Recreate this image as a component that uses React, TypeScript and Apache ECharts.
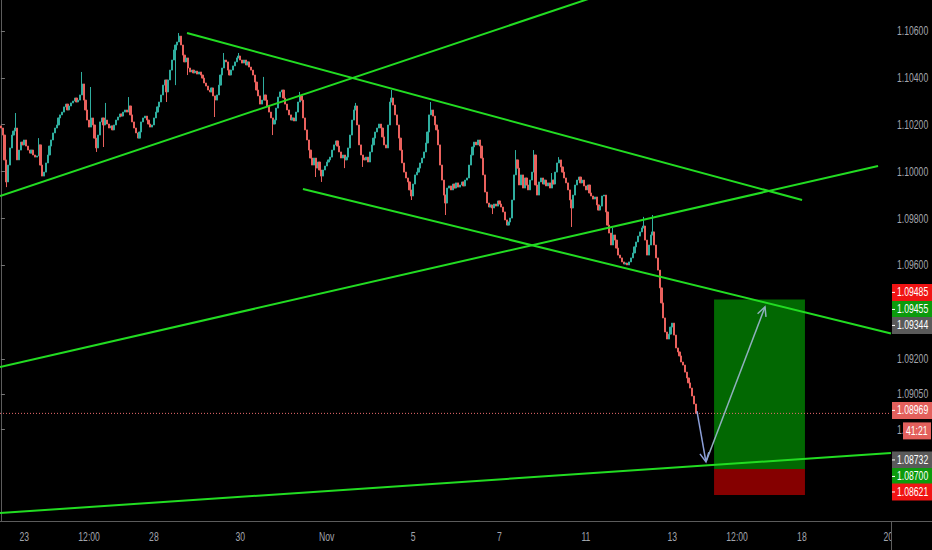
import React, { useEffect, useRef } from "react";
import * as echarts from "echarts";

// ---------- data ----------
const tradingDays = [
  "2019-10-22", "2019-10-23", "2019-10-24", "2019-10-25", "2019-10-28", "2019-10-29",
  "2019-10-30", "2019-10-31", "2019-11-01", "2019-11-04", "2019-11-05", "2019-11-06",
  "2019-11-07", "2019-11-08", "2019-11-11", "2019-11-12", "2019-11-13", "2019-11-14",
  "2019-11-15", "2019-11-18", "2019-11-19", "2019-11-20",
];
const firstHour = 11;
const slotCount = 495;

const tickLabels: Record<string, string> = {
  "2019-10-23 00:00": "23",
  "2019-10-24 12:00": "12:00",
  "2019-10-28 00:00": "28",
  "2019-10-30 00:00": "30",
  "2019-11-01 00:00": "Nov",
  "2019-11-05 00:00": "5",
  "2019-11-07 00:00": "7",
  "2019-11-11 00:00": "11",
  "2019-11-13 00:00": "13",
  "2019-11-14 12:00": "12:00",
  "2019-11-18 00:00": "18",
  "2019-11-20 00:00": "20",
};

const priceTicks = [1.106, 1.104, 1.102, 1.1, 1.098, 1.096, 1.092, 1.0905, 1.089];
const Y_MIN = 1.0851;
const Y_MAX = 1.10732;

const firstOpen = 1.10195;
const closes = [
  1.10186, 1.10156, 1.10050, 1.09956, 1.10028, 1.10101, 1.10156, 1.10173, 1.10186, 1.10050,
  1.10092, 1.10126, 1.10114, 1.10135, 1.10109, 1.10092, 1.10079, 1.10092, 1.10071, 1.10062,
  1.10067, 1.10114, 1.10028, 1.09981, 1.09998, 1.10037, 1.10071, 1.10109, 1.10135, 1.10165,
  1.10186, 1.10199, 1.10229, 1.10242, 1.10254, 1.10276, 1.10288, 1.10263, 1.10280, 1.10293,
  1.10301, 1.10314, 1.10297, 1.10305, 1.10327, 1.10374, 1.10305, 1.10263, 1.10220, 1.10190,
  1.10229, 1.10199, 1.10143, 1.10101, 1.10156, 1.10212, 1.10229, 1.10199, 1.10220, 1.10203,
  1.10186, 1.10195, 1.10178, 1.10199, 1.10220, 1.10233, 1.10246, 1.10237, 1.10254, 1.10263,
  1.10254, 1.10280, 1.10242, 1.10212, 1.10186, 1.10165, 1.10143, 1.10169, 1.10212, 1.10229,
  1.10237, 1.10220, 1.10203, 1.10190, 1.10199, 1.10229, 1.10254, 1.10276, 1.10297, 1.10327,
  1.10369, 1.10391, 1.10340, 1.10391, 1.10433, 1.10476, 1.10519, 1.10540, 1.10553, 1.10578,
  1.10540, 1.10497, 1.10468, 1.10485, 1.10442, 1.10425, 1.10433, 1.10421, 1.10429, 1.10416,
  1.10425, 1.10412, 1.10399, 1.10378, 1.10365, 1.10348, 1.10340, 1.10357, 1.10323, 1.10305,
  1.10327, 1.10369, 1.10412, 1.10442, 1.10476, 1.10468, 1.10433, 1.10412, 1.10433, 1.10451,
  1.10468, 1.10485, 1.10493, 1.10476, 1.10463, 1.10476, 1.10455, 1.10468, 1.10446, 1.10433,
  1.10412, 1.10382, 1.10348, 1.10323, 1.10288, 1.10305, 1.10327, 1.10305, 1.10280, 1.10254,
  1.10229, 1.10203, 1.10220, 1.10271, 1.10318, 1.10340, 1.10348, 1.10314, 1.10288, 1.10263,
  1.10242, 1.10220, 1.10229, 1.10216, 1.10254, 1.10297, 1.10323, 1.10305, 1.10229, 1.10178,
  1.10135, 1.10092, 1.10058, 1.10028, 1.10058, 1.10015, 1.10041, 1.10007, 1.09981, 1.10007,
  1.10024, 1.10041, 1.10050, 1.10062, 1.10092, 1.10114, 1.10131, 1.10109, 1.10084, 1.10058,
  1.10071, 1.10050, 1.10062, 1.10101, 1.10156, 1.10220, 1.10263, 1.10280, 1.10199, 1.10114,
  1.10071, 1.10058, 1.10050, 1.10062, 1.10041, 1.10084, 1.10114, 1.10143, 1.10169, 1.10186,
  1.10203, 1.10186, 1.10148, 1.10114, 1.10101, 1.10199, 1.10297, 1.10314, 1.10284, 1.10242,
  1.10199, 1.10143, 1.10092, 1.10037, 1.09998, 1.09973, 1.09956, 1.09922, 1.09896, 1.09947,
  1.09986, 1.09998, 1.10015, 1.10037, 1.10058, 1.10084, 1.10122, 1.10169, 1.10242, 1.10263,
  1.10237, 1.10199, 1.10178, 1.10114, 1.10028, 1.09964, 1.09900, 1.09866, 1.09930, 1.09939,
  1.09922, 1.09947, 1.09930, 1.09952, 1.09934, 1.09943, 1.09956, 1.09939, 1.09964, 1.09973,
  1.10028, 1.10071, 1.10105, 1.10126, 1.10114, 1.10135, 1.10109, 1.10058, 1.09986, 1.09913,
  1.09866, 1.09849, 1.09858, 1.09845, 1.09862, 1.09853, 1.09875, 1.09862, 1.09849, 1.09828,
  1.09794, 1.09772, 1.09785, 1.09802, 1.09879, 1.09986, 1.10050, 1.10015, 1.09943, 1.09986,
  1.09930, 1.09973, 1.09943, 1.09922, 1.09964, 1.09998, 1.10071, 1.09943, 1.09900, 1.09956,
  1.09973, 1.09947, 1.09964, 1.09939, 1.09952, 1.09930, 1.09964, 1.09947, 1.09998, 1.10037,
  1.10050, 1.10020, 1.09998, 1.09973, 1.09952, 1.09922, 1.09879, 1.09845, 1.09900, 1.09943,
  1.09964, 1.09977, 1.09952, 1.09964, 1.09939, 1.09922, 1.09943, 1.09909, 1.09896, 1.09883,
  1.09892, 1.09858, 1.09836, 1.09853, 1.09896, 1.09900, 1.09828, 1.09772, 1.09738, 1.09687,
  1.09730, 1.09708, 1.09674, 1.09644, 1.09632, 1.09615, 1.09606, 1.09610, 1.09602, 1.09615,
  1.09632, 1.09653, 1.09679, 1.09700, 1.09725, 1.09743, 1.09760, 1.09768, 1.09708, 1.09644,
  1.09687, 1.09730, 1.09743, 1.09687, 1.09632, 1.09580, 1.09504, 1.09440, 1.09376, 1.09316,
  1.09286, 1.09307, 1.09337, 1.09354, 1.09303, 1.09248, 1.09231, 1.09214, 1.09188, 1.09175,
  1.09145, 1.09120, 1.09099, 1.09077, 1.09043, 1.09009, 1.08969,
];

// notable wicks [candle index, price]
const wickHighs: [number, number][] = [
  [8, 1.1025], [21, 1.10143], [45, 1.10425], [50, 1.10361], [58, 1.10293], [71, 1.10318],
  [99, 1.10591], [124, 1.10506], [132, 1.10506], [146, 1.10404], [166, 1.1034], [197, 1.10293],
  [217, 1.10348], [239, 1.10297], [286, 1.10092], [296, 1.10092], [306, 1.09994], [310, 1.10062],
  [340, 1.0976], [357, 1.09807], [362, 1.09815],
];
const wickLows: [number, number][] = [
  [3, 1.09934], [53, 1.10084], [57, 1.10105], [92, 1.10297], [97, 1.10369], [104, 1.10412],
  [119, 1.10233], [151, 1.10156], [175, 1.09977], [178, 1.09956], [191, 1.10015], [201, 1.1002],
  [228, 1.09879], [247, 1.09815], [273, 1.09819], [317, 1.09764],
];

// trend lines: [[slot, price], [slot, price]]
const trendLines: [number, number][][] = [
  [[-0.5, 1.09896], [332.8, 1.10753]],
  [[103.4, 1.10591], [445.1, 1.09879]],
  [[167.8, 1.09926], [494.5, 1.0931]],
  [[-0.5, 1.09167], [487.3, 1.10024]],
  [[-0.5, 1.08544], [494.5, 1.088]],
];

// long position tool
const positionFrom = 396.2;
const positionTo = 446.7;
const targetPrice = 1.09455;
const entryPrice = 1.08732;
const stopPrice = 1.08621;

// projected path arrows
const arrowDown: [number, number][] = [[386.7, 1.08979], [391.7, 1.08762]];
const arrowUp: [number, number][] = [[391.9, 1.08766], [424.5, 1.09423]];

const lastPrice = 1.08969;
const countdown = "41:21";

// price scale tags
const priceTags = [
  { price: 1.09485, bg: "#f01414", dy: 0 },
  { price: 1.09455, bg: "#0c9a0c", dy: 10 },
  { price: 1.09344, bg: "#5a5a5a", dy: 0 },
  { price: 1.08969, bg: "#e3605c", dy: -3 },
  { price: 1.08732, bg: "#5a5a5a", dy: -9 },
  { price: 1.087, bg: "#0c9a0c", dy: 0 },
  { price: 1.08621, bg: "#f01414", dy: -3 },
];

// ---------- chart ----------
const FONT = '"Liberation Sans", Arial, sans-serif';
const UP = "#2fae9f";
const DOWN = "#ea615d";
const GREEN_LINE = "#22dc22";
const AXIS_TEXT = "#a2a5ad";
const NARROW = 0.72;
const FS = 12;

function buildCategories() {
  const cats: string[] = [];
  tradingDays.forEach((d, di) => {
    for (let h = di === 0 ? firstHour : 0; h < 24; h++) {
      cats.push(`${d} ${String(h).padStart(2, "0")}:00`);
    }
  });
  return cats.slice(0, slotCount);
}

function buildCandles() {
  const hi = new Map(wickHighs);
  const lo = new Map(wickLows);
  return closes.map((c, i) => {
    const o = i === 0 ? firstOpen : closes[i - 1];
    let h = Math.max(o, c);
    let l = Math.min(o, c);
    if (hi.has(i)) h = Math.max(h, hi.get(i)!);
    if (lo.has(i)) l = Math.min(l, lo.get(i)!);
    return [o, c, l, h];
  });
}

export default function App() {
  const ref = useRef<HTMLDivElement>(null);
  useEffect(() => {
    document.body.style.margin = "0";
    document.body.style.background = "#000";
    const chart = echarts.init(ref.current!, null, { renderer: "svg" });
    const categories = buildCategories();
    const showTick = (_i: number, v: string) => v in tickLabels;

    const option: any = {
      animation: false,
      backgroundColor: "#000",
      grid: { left: 0, right: 41, top: 0, bottom: 29, containLabel: false, outerBoundsMode: "none" },
      xAxis: [
        {
          type: "category",
          data: categories,
          boundaryGap: true,
          axisLine: { lineStyle: { color: "#5c5c5c" } },
          axisTick: { interval: showTick, alignWithLabel: true, length: 3, lineStyle: { color: "#777" } },
          axisLabel: { show: false },
          splitLine: { show: false },
        },
        { type: "value", min: -0.5, max: slotCount - 0.5, show: false },
      ],
      yAxis: {
        type: "value",
        position: "right",
        min: Y_MIN,
        max: Y_MAX,
        splitLine: { show: false },
        axisLine: { show: true, lineStyle: { color: "#5c5c5c" } },
        axisTick: { show: true, length: 4, customValues: priceTicks, lineStyle: { color: "#777" } },
        axisLabel: { show: false },
      },
      series: [
        {
          type: "line",
          xAxisIndex: 1,
          yAxisIndex: 0,
          data: [],
          z: 1,
          silent: true,
          markArea: {
            silent: true,
            data: [
              [
                { coord: [positionFrom, targetPrice], itemStyle: { color: "#026802" } },
                { coord: [positionTo, entryPrice] },
              ],
              [
                { coord: [positionFrom, entryPrice], itemStyle: { color: "#850000" } },
                { coord: [positionTo, stopPrice] },
              ],
            ],
          },
        },
        {
          type: "line",
          xAxisIndex: 1,
          yAxisIndex: 0,
          data: [[-0.5, lastPrice], [slotCount - 0.5, lastPrice]],
          symbol: "none",
          z: 1,
          silent: true,
          lineStyle: { type: [1, 2], color: "#ea6a6e", width: 1 },
        },
        {
          type: "candlestick",
          xAxisIndex: 0,
          yAxisIndex: 0,
          data: buildCandles(),
          barWidth: "88%",
          z: 2,
          itemStyle: { color: UP, color0: DOWN, borderColor: UP, borderColor0: DOWN, borderWidth: 1 },
        },
        ...trendLines.map((pts) => ({
          type: "line",
          xAxisIndex: 1,
          yAxisIndex: 0,
          data: pts,
          symbol: "none",
          z: 3,
          silent: true,
          lineStyle: { color: GREEN_LINE, width: 2 },
        })),
        {
          type: "line",
          xAxisIndex: 1,
          yAxisIndex: 0,
          data: arrowDown,
          symbol: "none",
          z: 4,
          silent: true,
          lineStyle: { color: "#8c9fd8", width: 1.5 },
        },
        {
          type: "line",
          xAxisIndex: 1,
          yAxisIndex: 0,
          data: arrowUp,
          symbol: "none",
          z: 4,
          silent: true,
          lineStyle: { color: "#8fb0bd", width: 1.5 },
        },
      ],
    };
    chart.setOption(option);

    const right = 891;
    const bottom = 521;
    const toPx = (p: [number, number]) => chart.convertToPixel({ xAxisIndex: 1, yAxisIndex: 0 }, p) as number[];
    const yOf = (v: number) => chart.convertToPixel({ yAxisIndex: 0 }, v) as number;
    const xOfCat = (c: string) => chart.convertToPixel({ xAxisIndex: 0 }, c) as number;

    const graphics: any[] = [];
    // x-axis labels
    Object.entries(tickLabels).forEach(([cat, label]) => {
      const x = xOfCat(cat);
      graphics.push({
        type: "text", z: 40, x, y: bottom + 16, scaleX: NARROW,
        style: { text: label, fill: AXIS_TEXT, fontSize: FS, fontFamily: FONT, align: "center", verticalAlign: "middle" },
      });
    });
    // y-axis labels
    priceTicks.forEach((v) => {
      graphics.push({
        type: "text", z: 40, x: right + 6, y: yOf(v), scaleX: NARROW,
        style: { text: v.toFixed(5), fill: AXIS_TEXT, fontSize: FS, fontFamily: FONT, align: "left", verticalAlign: "middle" },
      });
    });
    // frame pieces in the price-scale corner
    graphics.push(
      { type: "rect", z: 50, shape: { x: right + 0.5, y: bottom + 1, width: 41, height: 28 }, style: { fill: "#000" } },
      { type: "line", z: 51, shape: { x1: right + 0.5, y1: bottom, x2: right + 0.5, y2: 550 }, style: { stroke: "#5c5c5c", lineWidth: 1 } },
      { type: "line", z: 51, shape: { x1: right, y1: bottom + 0.5, x2: 932, y2: bottom + 0.5 }, style: { stroke: "#5c5c5c", lineWidth: 1 } },
    );
    // arrow heads
    const head = (a: [number, number], b: [number, number], color: string) => {
      const p0 = toPx(a);
      const p1 = toPx(b);
      const dx = p1[0] - p0[0];
      const dy = p1[1] - p0[1];
      const len = Math.hypot(dx, dy);
      const ux = dx / len, uy = dy / len;
      const px = -uy, py = ux;
      const L = 9, W = 4.5;
      graphics.push({
        type: "polyline", z: 60,
        shape: {
          points: [
            [p1[0] - ux * L + px * W, p1[1] - uy * L + py * W],
            [p1[0], p1[1]],
            [p1[0] - ux * L - px * W, p1[1] - uy * L - py * W],
          ],
        },
        style: { stroke: color, lineWidth: 1.5, fill: "none" },
      });
    };
    head(arrowDown[0], arrowDown[1], "#8c9fd8");
    head(arrowUp[0], arrowUp[1], "#8fb0bd");

    // price tags
    priceTags.forEach((t) => {
      const y = yOf(t.price) + t.dy;
      graphics.push({ type: "rect", z: 100, shape: { x: right + 1, y: y - 8.5, width: 41, height: 17 }, style: { fill: t.bg } });
      graphics.push({ type: "line", z: 101, shape: { x1: right + 1, y1: y, x2: right + 4, y2: y }, style: { stroke: "#fff", lineWidth: 1 } });
      graphics.push({
        type: "text", z: 101, x: right + 6, y, scaleX: NARROW,
        style: { text: t.price.toFixed(5), fill: "#fff", fontSize: FS, fontFamily: FONT, verticalAlign: "middle", align: "left" },
      });
      if (t.price === lastPrice) {
        graphics.push({ type: "rect", z: 100, shape: { x: 903, y: y + 12, width: 28, height: 17 }, style: { fill: t.bg } });
        graphics.push({
          type: "text", z: 101, x: 906, y: y + 20.5, scaleX: NARROW,
          style: { text: countdown, fill: "#fff", fontSize: FS, fontFamily: FONT, verticalAlign: "middle", align: "left" },
        });
      }
    });
    chart.setOption({ graphic: graphics });

    return () => chart.dispose();
  }, []);
  return (
    <div
      ref={ref}
      style={{ position: "fixed", left: 0, top: 0, width: 932, height: 550, background: "#000" }}
    />
  );
}
